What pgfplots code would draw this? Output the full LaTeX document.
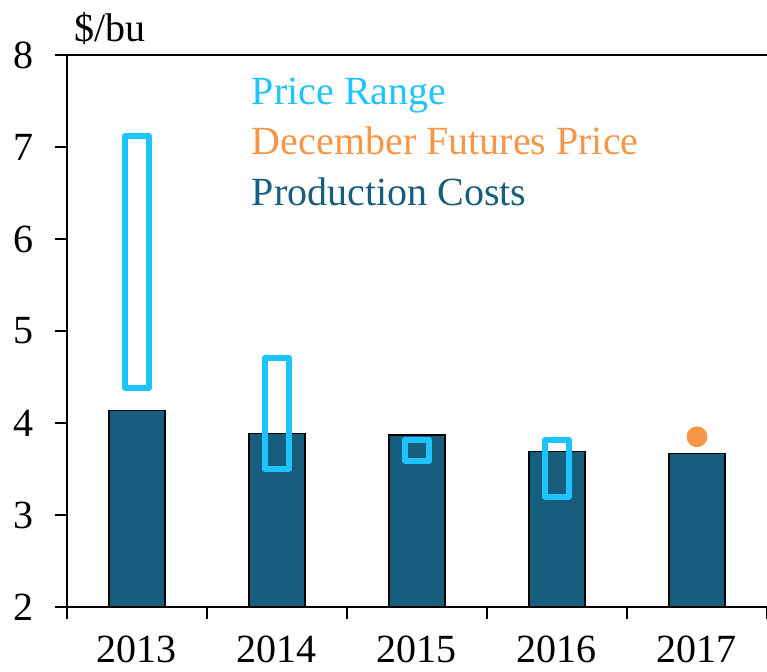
\documentclass[border=0pt]{standalone}
\usepackage{pgfplots}
\pgfplotsset{compat=1.18}
\usepgfplotslibrary{statistics}
\usepackage{fontspec}
\setmainfont{Liberation Serif}
\definecolor{prodcol}{RGB}{23,94,126}
\definecolor{rangecol}{RGB}{30,196,255}
\definecolor{futcol}{RGB}{247,150,70}
\begin{document}
\begin{tikzpicture}
\fontsize{20}{24}\selectfont
\begin{axis}[
  scale only axis, width=350pt, height=276pt,
  xmin=-0.5, xmax=4.5, ymin=2, ymax=8,
  axis x line*=box, axis y line*=left,
  axis line style={line width=1pt},
  xtick={-0.5,0.5,...,4.5},
  x tick label as interval,
  xticklabels={2013,2014,2015,2016,2017},
  xtick pos=bottom, ytick pos=left,
  ytick={2,3,4,5,6,7,8},
  tick align=outside, major tick length=6pt,
  tick style={line width=1pt, black},
  /pgf/number format/assume math mode=true,
  tick label style={font=\fontsize{20}{24}\selectfont},
  yticklabel style={inner sep=0pt, xshift=-10.5pt},
  xticklabel style={inner sep=0pt, yshift=-8.5pt},
  boxplot/draw direction=y,
  clip=true,
]
\addplot[ybar, bar width=0.4, fill=prodcol, draw=black, line width=0.6pt]
  coordinates {(0,4.14) (1,3.89) (2,3.87) (3,3.69) (4,3.67)};
\addplot[rangecol, line width=3pt, line join=round, boxplot prepared={draw position=0, lower whisker=4.38, lower quartile=4.38, median=4.38, upper quartile=7.12, upper whisker=7.12, box extend=0.168, whisker extend=0}] coordinates {};
\addplot[rangecol, line width=3pt, line join=round, boxplot prepared={draw position=1, lower whisker=3.50, lower quartile=3.50, median=3.50, upper quartile=4.71, upper whisker=4.71, box extend=0.168, whisker extend=0}] coordinates {};
\addplot[rangecol, line width=3pt, line join=round, boxplot prepared={draw position=2, lower whisker=3.59, lower quartile=3.59, median=3.59, upper quartile=3.82, upper whisker=3.82, box extend=0.168, whisker extend=0}] coordinates {};
\addplot[rangecol, line width=3pt, line join=round, boxplot prepared={draw position=3, lower whisker=3.20, lower quartile=3.20, median=3.20, upper quartile=3.82, upper whisker=3.82, box extend=0.168, whisker extend=0}] coordinates {};
\addplot[only marks, mark=*, mark size=5pt, color=futcol, mark options={draw=none, fill=futcol}]
  coordinates {(4,3.85)};
\node[anchor=base west, inner sep=0pt, text=rangecol] at ([shift={(92.3pt,-25pt)}]rel axis cs:0,1) {Price Range};
\node[anchor=base west, inner sep=0pt, text=futcol] at ([shift={(92.3pt,-50pt)}]rel axis cs:0,1) {December Futures Price};
\node[anchor=base west, inner sep=0pt, text=prodcol] at ([shift={(92.3pt,-75.5pt)}]rel axis cs:0,1) {Production Costs};
\coordinate (sw) at (rel axis cs:0,0);
\coordinate (ne) at (rel axis cs:1,1);
\coordinate (nw) at (rel axis cs:0,1);
\end{axis}
\node[anchor=base west, inner sep=0pt] at ([shift={(3.5pt,6.5pt)}]nw) {\$/bu};
\pgfresetboundingbox
\path ([shift={(-33.5pt,-32.5pt)}]sw) rectangle ([shift={(0pt,27.5pt)}]ne);
\end{tikzpicture}
\end{document}
